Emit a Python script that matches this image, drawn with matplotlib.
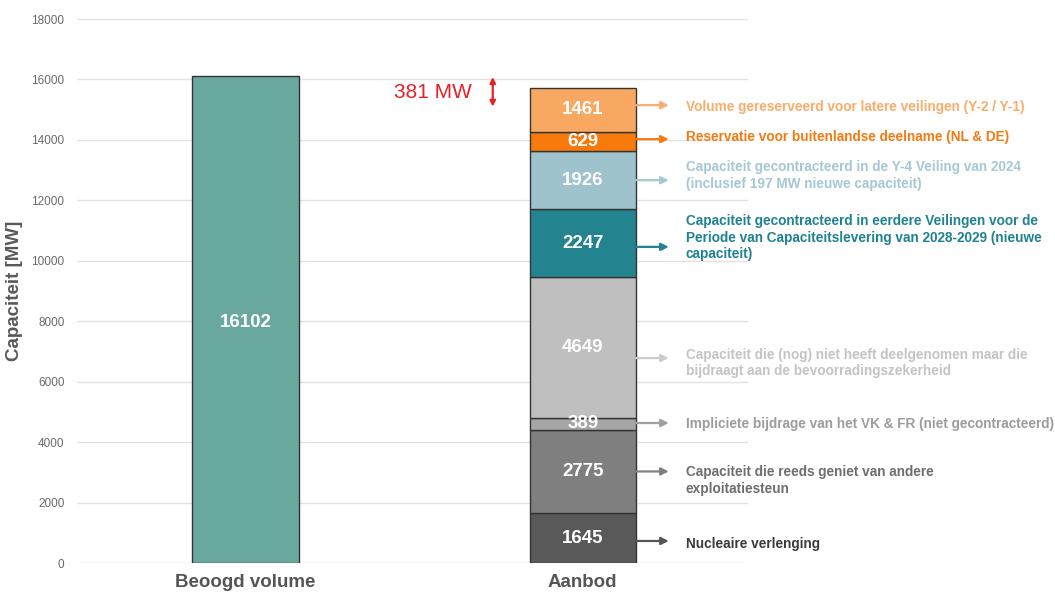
import matplotlib.pyplot as plt
import numpy as np

plt.rcParams["font.family"] = ["Liberation Sans", "DejaVu Sans"]

# data
categories = ["Beoogd volume", "Aanbod"]
target_volume = 16102
stack_values = [1645, 2775, 389, 4649, 2247, 1926, 629, 1461]
stack_labels = [
    "Nucleaire verlenging",
    "Capaciteit die reeds geniet van andere\nexploitatiesteun",
    "Impliciete bijdrage van het VK & FR (niet gecontracteerd)",
    "Capaciteit die (nog) niet heeft deelgenomen maar die\nbijdraagt aan de bevoorradingszekerheid",
    "Capaciteit gecontracteerd in eerdere Veilingen voor de\nPeriode van Capaciteitslevering van 2028-2029 (nieuwe\ncapaciteit)",
    "Capaciteit gecontracteerd in de Y-4 Veiling van 2024\n(inclusief 197 MW nieuwe capaciteit)",
    "Reservatie voor buitenlandse deelname (NL & DE)",
    "Volume gereserveerd voor latere veilingen (Y-2 / Y-1)",
]

# styles
bar_colors = ["#595959", "#7f7f7f", "#a6a6a6", "#bfbfbf", "#23838f", "#9fc3cd", "#f87a0c", "#f9a862"]
text_colors = ["#3a3a3a", "#6e6e6e", "#9c9c9c", "#c4c4c4", "#1f8290", "#a6c8d2", "#f47a12", "#f9ad6a"]
arrow_colors = ["#555555", "#808080", "#a0a0a0", "#cccccc", "#23838f", "#a6c8d2", "#f47a12", "#f9ad6a"]
arrow_shift = [-90, 0, 20, -350, -120, 0, 80, 160]
text_shift = [-190, -300, 0, -520, 190, 150, 150, 100]
target_color = "#69a99d"
edge = "#333333"
width = 0.315

fig = plt.figure(figsize=(10.55, 5.94), dpi=100)
ax = fig.add_axes([0.073, 0.052, 0.636, 0.916])

ax.bar(0, target_volume, width=width, color=target_color, edgecolor=edge, linewidth=1, zorder=3)
ax.text(0, target_volume / 2 - 100, f"{target_volume}", ha="center", va="center",
        color="white", fontsize=13.5, fontweight="bold", zorder=4)

bottom = 0
for i, v in enumerate(stack_values):
    ax.bar(1, v, bottom=bottom, width=width, color=bar_colors[i], edgecolor=edge, linewidth=1, zorder=3)
    mid = bottom + v / 2
    ax.text(1, mid, f"{v}", ha="center", va="center", color="white",
            fontsize=13.5, fontweight="bold", zorder=4)
    ya = mid + arrow_shift[i]
    ax.annotate("", xy=(1.255, ya), xytext=(1 + width / 2, ya),
                arrowprops=dict(arrowstyle="-|>", color=arrow_colors[i], lw=1.6,
                                mutation_scale=11, shrinkA=0, shrinkB=0),
                annotation_clip=False, zorder=4)
    ax.text(1.305, mid + text_shift[i], stack_labels[i], ha="left", va="center",
            color=text_colors[i], fontsize=9.8, fontweight="bold",
            linespacing=1.22, clip_on=False)
    bottom += v

gap = target_volume - sum(stack_values)
ax.text(0.672, 15560, f"{gap} MW", ha="right", va="center", color="#e8202a", fontsize=15)
ax.annotate("", xy=(0.733, 16080), xytext=(0.733, 15100),
            arrowprops=dict(arrowstyle="<|-|>", color="#e8202a", lw=1.6,
                            mutation_scale=8, shrinkA=0, shrinkB=0))

ax.set_xlim(-0.5, 1.49)
ax.set_ylim(0, 18000)
ax.set_yticks(np.arange(0, 18001, 2000))
ax.set_xticks([0, 1])
ax.set_xticklabels(categories, fontsize=13.5, fontweight="bold", color="#555555")
ax.tick_params(axis="x", length=0, pad=8)
ax.tick_params(axis="y", length=0, pad=9, labelsize=8.5, labelcolor="#6a6a6a")
ax.grid(axis="y", color="#e2e2e2", linewidth=1, zorder=0)
for s in ax.spines.values():
    s.set_visible(False)
ax.set_ylabel("Capaciteit [MW]", fontsize=13.5, fontweight="bold", color="#595959", labelpad=6)

fig.savefig("out.png", dpi=100)
